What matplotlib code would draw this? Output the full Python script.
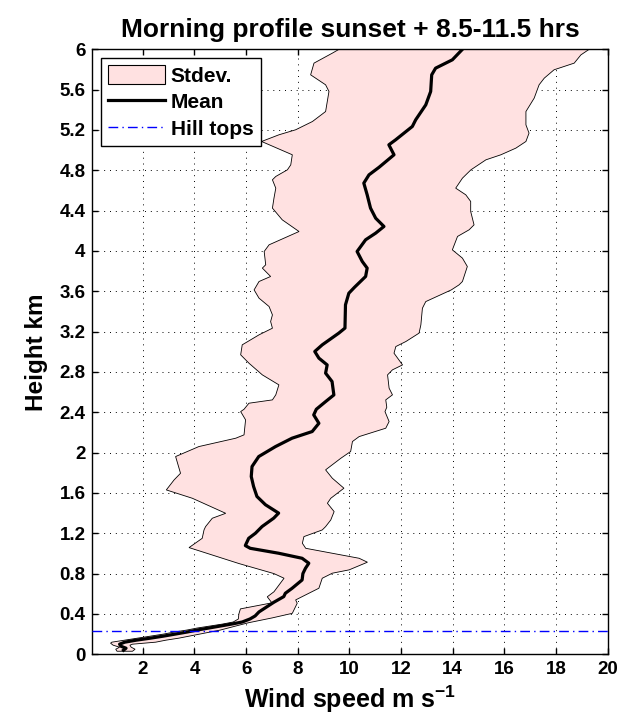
import matplotlib
matplotlib.use("Agg")
import matplotlib.pyplot as plt
from matplotlib.patches import Patch
from matplotlib.lines import Line2D
import numpy as np

plt.rcParams['font.family'] = ['Liberation Sans', 'DejaVu Sans']
plt.rcParams['mathtext.fontset'] = 'custom'
plt.rcParams['mathtext.rm'] = 'Liberation Sans:bold'
plt.rcParams['mathtext.bf'] = 'Liberation Sans:bold'

# Mean wind speed profile (height km, speed m/s)
mean_h = [0.04, 0.06, 0.08, 0.10, 0.12, 0.14, 0.16, 0.18, 0.20, 0.22, 0.24, 0.26,
          0.28, 0.30, 0.32, 0.35, 0.38, 0.42, 0.47, 0.515, 0.572, 0.605, 0.654,
          0.737, 0.80, 0.853, 0.903, 0.952, 1.002, 1.051, 1.078, 1.15, 1.20, 1.267,
          1.35, 1.40, 1.483, 1.565, 1.664, 1.763, 1.862, 1.961, 2.06, 2.143, 2.209,
          2.291, 2.374, 2.43, 2.506, 2.572, 2.705, 2.788, 2.87, 2.937, 3.003, 3.069,
          3.185, 3.235, 3.466, 3.581, 3.64, 3.747, 3.83, 3.896, 3.995, 4.111, 4.177,
          4.243, 4.325, 4.425, 4.557, 4.673, 4.755, 4.83, 4.954, 5.053, 5.102, 5.235,
          5.301, 5.449, 5.582, 5.747, 5.813, 5.896, 6.0]
mean_ws = [1.25, 1.35, 1.15, 1.10, 1.30, 1.75, 2.30, 2.80, 3.25, 3.70, 4.10, 4.55,
           5.00, 5.45, 5.85, 6.15, 6.35, 6.50, 6.80, 7.07, 7.46, 7.52, 7.78,
           8.17, 8.20, 8.30, 8.43, 8.17, 7.26, 6.16, 5.97, 6.10, 6.36, 6.62,
           7.07, 7.26, 6.75, 6.42, 6.29, 6.20, 6.23, 6.49, 7.14, 7.78, 8.56,
           8.82, 8.62, 8.72, 9.08, 9.40, 9.33, 9.08, 9.14, 8.82, 8.66, 8.95,
           9.59, 9.83, 9.85, 9.98, 10.2, 10.63, 10.69, 10.50, 10.30, 10.63, 11.02,
           11.34, 11.02, 10.82, 10.69, 10.56, 10.76, 11.15, 11.73, 11.53, 11.79, 12.44,
           12.57, 12.96, 13.15, 13.19, 13.34, 13.99, 14.38]

# Lower edge of the stdev band (mean - stdev)
lo_h = [0.03, 0.05, 0.07, 0.09, 0.11, 0.12, 0.14, 0.16, 0.18, 0.20, 0.22, 0.24,
        0.26, 0.28, 0.30, 0.32, 0.35, 0.40, 0.45, 0.51, 0.57, 0.62, 0.754, 0.80,
        0.90, 1.058, 1.15, 1.233, 1.266, 1.349, 1.398, 1.547, 1.63, 1.729, 1.795,
        1.961, 2.06, 2.143, 2.176, 2.325, 2.407, 2.43, 2.49, 2.523, 2.573, 2.672,
        2.771, 2.887, 2.97, 3.069, 3.168, 3.234, 3.30, 3.366, 3.449, 3.532, 3.614,
        3.697, 3.747, 3.83, 3.863, 3.995, 4.061, 4.193, 4.309, 4.425, 4.524, 4.623,
        4.706, 4.739, 4.805, 4.854, 4.954, 5.086, 5.152, 5.202, 5.284, 5.383, 5.582,
        5.648, 5.747, 5.863, 5.962, 6.0]
lo_ws = [1.00, 0.95, 1.10, 0.85, 0.75, 0.80, 1.30, 1.80, 2.30, 2.80, 3.20, 3.70,
         4.10, 4.60, 5.10, 5.50, 5.70, 5.72, 5.78, 7.00, 6.82, 7.08, 7.47, 7.08,
         5.72, 3.79, 4.30, 4.37, 4.43, 4.69, 5.21, 3.92, 2.91, 3.21, 3.46,
         3.27, 4.17, 5.60, 5.92, 5.98, 5.79, 5.92, 6.11, 7.02, 7.15, 7.27,
         6.63, 6.11, 5.79, 5.85, 6.50, 7.02, 6.95, 7.02, 6.89, 6.50, 6.31,
         6.50, 6.95, 6.63, 6.76, 6.70, 6.89, 8.05, 7.40, 7.02, 7.08, 7.15,
         7.02, 7.15, 7.60, 7.73, 7.79, 6.60, 7.27, 7.92, 8.57, 9.08, 9.21,
         9.08, 8.50, 8.63, 9.34, 9.60]

# Upper edge of the stdev band (mean + stdev)
hi_h = [0.03, 0.05, 0.07, 0.09, 0.10, 0.12, 0.14, 0.16, 0.18, 0.20, 0.22, 0.24,
        0.26, 0.28, 0.30, 0.313, 0.36, 0.406, 0.506, 0.539, 0.655, 0.754, 0.804,
        0.837, 0.913, 0.952, 1.051, 1.101, 1.167, 1.233, 1.266, 1.332, 1.415, 1.498,
        1.547, 1.647, 1.746, 1.829, 1.944, 2.011, 2.11, 2.159, 2.242, 2.308, 2.407,
        2.45, 2.523, 2.573, 2.639, 2.771, 2.821, 2.87, 2.986, 3.052, 3.102, 3.185,
        3.267, 3.432, 3.498, 3.614, 3.664, 3.697, 3.846, 3.929, 4.011, 4.144, 4.21,
        4.259, 4.392, 4.491, 4.557, 4.623, 4.722, 4.805, 4.904, 4.954, 5.02, 5.086,
        5.169, 5.251, 5.383, 5.516, 5.648, 5.714, 5.797, 5.863, 5.945, 6.0]
hi_ws = [1.60, 1.70, 1.55, 1.50, 1.60, 2.50, 2.90, 3.40, 3.80, 4.20, 4.60, 5.00,
         5.30, 5.60, 5.90, 6.10, 7.00, 7.79, 7.98, 7.92, 8.82, 8.95, 9.34,
         9.99, 10.70, 10.38, 8.31, 8.18, 8.24, 8.95, 9.08, 9.28, 9.41, 9.15,
         9.28, 9.79, 9.34, 9.08, 9.67, 10.05, 10.12, 10.38, 11.41, 11.54, 11.38,
         11.45, 11.41, 11.67, 11.54, 11.48, 11.67, 12.06, 11.73, 11.80, 12.19, 12.70,
         12.77, 12.83, 12.96, 13.95, 14.25, 14.38, 14.57, 14.38, 13.99, 14.19, 14.64,
         14.83, 14.70, 14.70, 14.51, 14.12, 14.38, 14.71, 15.29, 15.87, 16.45, 16.84,
         16.96, 16.84, 16.84, 17.16, 17.35, 17.55, 17.93, 18.71, 18.97, 19.29]

hill_top = 0.23  # km

x_ticks = [2, 4, 6, 8, 10, 12, 14, 16, 18, 20]
y_ticks = [0, 0.4, 0.8, 1.2, 1.6, 2, 2.4, 2.8, 3.2, 3.6, 4, 4.4, 4.8, 5.2, 5.6, 6]

fill_col = '#ffe1e1'

fig = plt.figure(figsize=(6.22, 7.2), dpi=100)
ax = fig.add_axes([0.1487, 0.0913, 0.828, 0.8402])

# stdev band as one closed polygon
ax.fill(np.r_[lo_ws, hi_ws[::-1]], np.r_[lo_h, hi_h[::-1]],
        facecolor=fill_col, edgecolor='black', linewidth=0.6, zorder=2)
ax.plot(mean_ws, mean_h, color='black', linewidth=2.3, zorder=3)
ax.axhline(hill_top, color='blue', linestyle=(0, (7, 3, 1, 3)), linewidth=1.0, zorder=4)

ax.set_xlim(0.05, 20)
ax.set_ylim(0, 6)
ax.set_xticks(x_ticks)
ax.set_yticks(y_ticks)
ax.set_yticklabels(['%g' % t for t in y_ticks])
ax.grid(True, color='black', linestyle=(0, (1, 5)), linewidth=0.7)
ax.set_axisbelow(True)
ax.tick_params(direction='in', length=4, width=1, top=True, right=True,
               labelsize=13.5, pad=5)
for lab in ax.get_xticklabels() + ax.get_yticklabels():
    lab.set_fontweight('bold')
for sp in ax.spines.values():
    sp.set_linewidth(1.0)

ax.set_title('Morning profile sunset + 8.5-11.5 hrs', fontsize=19,
             fontweight='bold', pad=9)
ax.set_xlabel(r'Wind speed m s$^{-1}$', fontsize=18, fontweight='bold', labelpad=4)
ax.set_ylabel('Height km', fontsize=17.5, fontweight='bold', labelpad=8)

handles = [Patch(facecolor=fill_col, edgecolor='black', linewidth=0.8),
           Line2D([], [], color='black', linewidth=2.3),
           Line2D([], [], color='blue', linestyle=(0, (7, 3, 1, 3)), linewidth=1.0)]
leg = ax.legend(handles, ['Stdev.', 'Mean', 'Hill tops'], loc='upper left',
                bbox_to_anchor=(0.0165, 0.9856), borderaxespad=0,
                fancybox=False, framealpha=1, edgecolor='black',
                prop={'weight': 'bold', 'size': 15}, handlelength=2.7,
                handleheight=1.0, handletextpad=0.3, labelspacing=0.3,
                borderpad=0.35)
leg.get_frame().set_linewidth(1.0)

fig.savefig('out.png', dpi=100)
